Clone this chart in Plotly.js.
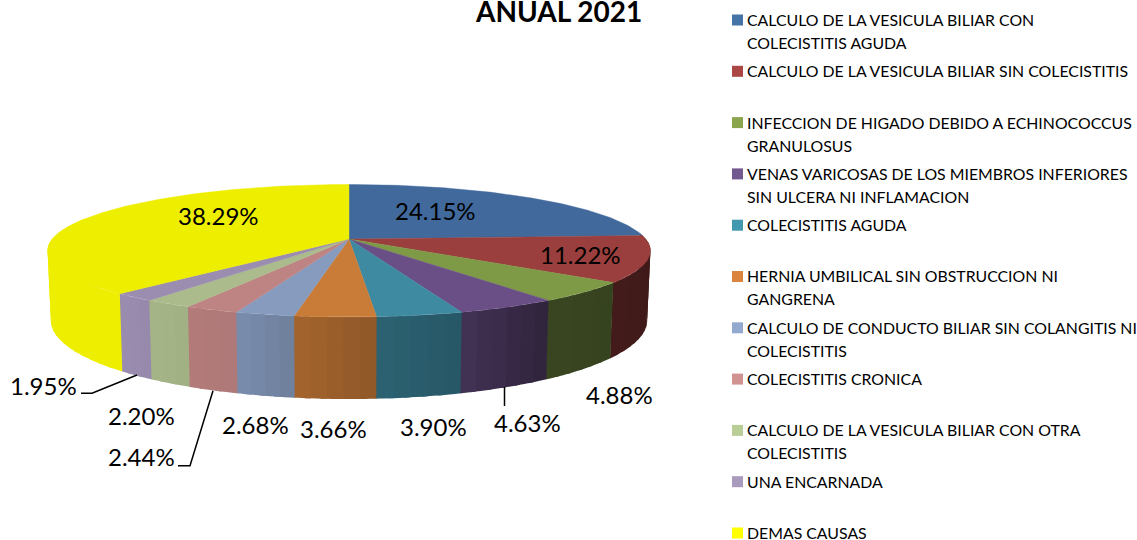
<!DOCTYPE html>
<html>
<head>
<meta charset="utf-8">
<script src="https://cdn.plot.ly/plotly-3.0.1.min.js"></script>
<style>html,body{margin:0;padding:0;background:#fff}#chart{width:1137px;height:540px}</style>
</head>
<body>
<div id="chart"></div>
<script>
const chartTitle = 'ANUAL 2021';
const categories = [
  ['CALCULO DE LA VESICULA BILIAR CON', 'COLECISTITIS AGUDA'],
  ['CALCULO DE LA VESICULA BILIAR SIN COLECISTITIS'],
  ['INFECCION DE HIGADO DEBIDO A ECHINOCOCCUS', 'GRANULOSUS'],
  ['VENAS VARICOSAS DE LOS MIEMBROS INFERIORES', 'SIN ULCERA NI INFLAMACION'],
  ['COLECISTITIS AGUDA'],
  ['HERNIA UMBILICAL SIN OBSTRUCCION NI', 'GANGRENA'],
  ['CALCULO DE CONDUCTO BILIAR SIN COLANGITIS NI', 'COLECISTITIS'],
  ['COLECISTITIS CRONICA'],
  ['CALCULO DE LA VESICULA BILIAR CON OTRA', 'COLECISTITIS'],
  ['UNA ENCARNADA'],
  ['DEMAS CAUSAS']
];
const percentages = [24.15, 11.22, 4.88, 4.63, 3.90, 3.66, 2.68, 2.44, 2.20, 1.95, 38.29];
const colors = ['#41699C','#9A3F3D','#7E9A47','#694F85','#3D8AA1','#C97B38','#879BBE','#BE8483','#ABBB8C','#9A8DB0','#EEEE00'];
const legendColors = ['#4572A7','#AA4643','#89A54E','#71588F','#4198AF','#DB843D','#93A9CF','#D19392','#B9CD96','#A99BBD','#FFFF00'];

// Styling / layout constants
const labelX = [435, 580, 619, 527, 433, 333, 255, 141, 141, 43, 218];
const labelY = [210.5, 254.5, 394.5, 422.5, 426.5, 428.5, 424.5, 456.5, 415.5, 385.5, 215.5];
const leaderLines = [
  {x:[81,92,137], y:[393.3,393.3,375]},
  {x:[178,190,213], y:[465.7,465.7,390.7]},
  {x:[504.5,504.5], y:[387,406]}
];
const shadeAngles = [ 87,127,145,161.5,175.6,188.8,198.4,207.2,215.1,222.1,360];
const shadeValues = [.40,.43,.45,.63,.71,.82,.91,.94,.97,1,1];
const CX = 349, CY = 239, R = 296.7, K = 64.2, P = 0.177, D = 67.5, BOTTOM_X = 0.989;
const LEG_Y0 = 19.4, LEG_STEP = 51.3, LEG_LINE = 23, LEG_TXT_X = 745, LEG_BOX_X = 737.5;
const LABEL_SIZE = 24, LEG_SIZE = 15.85, TITLE_SIZE = 28, FONT = 'Lato, "Open Sans", sans-serif';
const OVERLAP = 1.0;

const rad = d => d * Math.PI / 180;
function project(deg, low) {
  const c = Math.cos(rad(deg)), sn = Math.sin(rad(deg)), s = 1 / (1 + P * c);
  return low
    ? [CX + R * sn * s * BOTTOM_X, CY - K * c * s + D * s]
    : [CX + R * sn * s, CY - K * c * s];
}
function shade(deg) {
  for (let i = 1; i < shadeAngles.length; i++) {
    if (deg <= shadeAngles[i]) {
      const t = (deg - shadeAngles[i-1]) / (shadeAngles[i] - shadeAngles[i-1]);
      return shadeValues[i-1] + Math.max(0, t) * (shadeValues[i] - shadeValues[i-1]);
    }
  }
  return 1;
}
function darken(hex, f) {
  const n = parseInt(hex.slice(1), 16);
  return `rgb(${Math.round((n>>16&255)*f)},${Math.round((n>>8&255)*f)},${Math.round((n&255)*f)})`;
}
const total = percentages.reduce((a, b) => a + b, 0);
const traces = [];
let start = 0;
const spans = percentages.map(v => { const a = start; start += v / total * 360; return [a, start]; });

// Wall strips: each overlaps the next so no seams show between them
spans.forEach(([a, b], i) => {
  const from = Math.max(a, 85), to = Math.min(b, 290);
  if (to <= from) return;
  const n = Math.max(1, Math.ceil((to - from) / 3));
  for (let j = 0; j < n; j++) {
    const a0 = from + (to - from) * j / n, a1 = from + (to - from) * (j + 1) / n;
    const end = j === n - 1 ? a1 + 0.15 : a1 + OVERLAP;
    const arcs = [];
    const steps = 4;
    for (let k = 0; k <= steps; k++) arcs.push(project(a0 + (end - a0) * k / steps, false));
    for (let k = steps; k >= 0; k--) arcs.push(project(a0 + (end - a0) * k / steps, true));
    arcs.push(arcs[0]);
    const col = darken(colors[i], shade((a0 + a1) / 2));
    traces.push({type:'scatter', mode:'none', x:arcs.map(p=>p[0]), y:arcs.map(p=>p[1]),
      fill:'toself', fillcolor:col, hoverinfo:'skip', showlegend:false});
  }
});
// Top faces
spans.forEach(([a, b], i) => {
  const n = Math.max(2, Math.ceil(b - a));
  const pts = [[CX, CY]];
  for (let j = 0; j <= n; j++) pts.push(project(a + (b - a) * j / n, false));
  pts.push([CX, CY]);
  traces.push({type:'scatter', mode:'lines', x:pts.map(p=>p[0]), y:pts.map(p=>p[1]),
    fill:'toself', fillcolor:colors[i], line:{color:colors[i], width:0.4},
    name:categories[i].join(' '), hoverinfo:'skip', showlegend:false});
});
// Leader lines
leaderLines.forEach(l => traces.push({type:'scatter', mode:'lines', x:l.x, y:l.y,
  line:{color:'#000', width:1.5}, hoverinfo:'skip', showlegend:false}));
// Legend keys
traces.push({type:'scatter', mode:'markers',
  x:categories.map(() => LEG_BOX_X), y:categories.map((_, i) => 20 + i * LEG_STEP),
  marker:{symbol:'square', size:11, color:legendColors, line:{width:0}}, hoverinfo:'skip', showlegend:false});

const annotations = [];
const addText = (x, y, text, size, anchor, bold) => annotations.push({
  xref:'x', yref:'y', x, y, text: bold ? `<b>${text}</b>` : text, showarrow:false,
  xanchor:anchor, yanchor:'middle', font:{family:FONT, size, color:'#000'}
});
percentages.forEach((v, i) => addText(labelX[i], labelY[i], v.toFixed(2) + '%', LABEL_SIZE, 'center'));
categories.forEach((lines, i) => lines.forEach((t, j) =>
  addText(LEG_TXT_X, LEG_Y0 + i * LEG_STEP + j * LEG_LINE, t, LEG_SIZE, 'left')));
addText(558, 11, chartTitle, TITLE_SIZE, 'center', true);

Plotly.newPlot('chart', traces, {
  width:1137, height:540, margin:{l:0,r:0,t:0,b:0},
  paper_bgcolor:'#fff', plot_bgcolor:'#fff', showlegend:false,
  xaxis:{range:[0,1137], visible:false, fixedrange:true},
  yaxis:{range:[540,0], visible:false, fixedrange:true},
  annotations, hovermode:false
}, {displayModeBar:false, staticPlot:true});
</script>
</body>
</html>
